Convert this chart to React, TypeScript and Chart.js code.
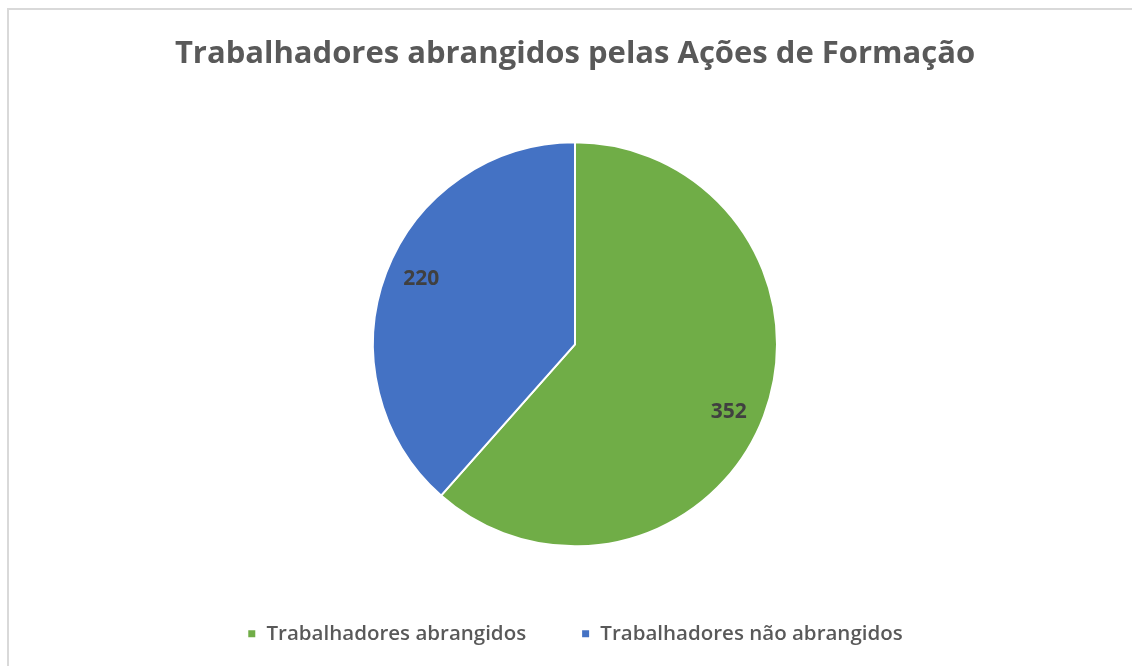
import React, { useEffect, useRef } from "react";
import { Chart, registerables } from "chart.js";

Chart.register(...registerables);

const titleText = "Trabalhadores abrangidos pelas Ações de Formação";
const categories = ["Trabalhadores abrangidos", "Trabalhadores não abrangidos"];
const values = [352, 220];
const colors = ["#70AD47", "#4472C4"];

const valueLabels = {
  id: "valueLabels",
  afterDatasetsDraw(chart: any) {
    const ctx = chart.ctx;
    const meta = chart.getDatasetMeta(0);
    ctx.save();
    ctx.font = "bold 21px 'Open Sans'";
    ctx.fillStyle = "#404040";
    ctx.textAlign = "center";
    ctx.textBaseline = "middle";
    meta.data.forEach((arc: any, i: number) => {
      const p = arc.getProps(["x", "y", "startAngle", "endAngle", "outerRadius"], true);
      const mid = (p.startAngle + p.endAngle) / 2 + (2.7 * Math.PI) / 180;
      const r = p.outerRadius * 0.83;
      ctx.fillText(String(values[i]), p.x + Math.cos(mid) * r, p.y + Math.sin(mid) * r + 1);
    });
    ctx.restore();
  },
};

export default function App() {
  const ref = useRef<HTMLCanvasElement>(null);
  useEffect(() => {
    if (!ref.current) return;
    const chart = new Chart(ref.current, {
      type: "pie",
      data: {
        labels: categories,
        datasets: [
          {
            data: values,
            backgroundColor: colors,
            borderColor: "#ffffff",
            borderWidth: 2,
            radius: 202,
          },
        ],
      },
      options: {
        animation: false,
        responsive: false,
        maintainAspectRatio: false,
        layout: { padding: { left: 18, bottom: 12 } },
        plugins: {
          title: {
            display: true,
            text: titleText,
            color: "#595959",
            font: { family: "'Open Sans'", size: 31, weight: "bold", lineHeight: 1.2 },
            padding: { top: 36, bottom: 47 },
          },
          legend: {
            position: "bottom",
            labels: {
              color: "#595959",
              boxWidth: 9,
              boxHeight: 9,
              padding: 55,
              font: { family: "'Open Sans'", size: 20.5, weight: "600" },
            },
          },
          tooltip: { enabled: false },
        },
      },
      plugins: [valueLabels],
    });
    return () => chart.destroy();
  }, []);
  return (
    <>
      <div
        style={{
          position: "fixed",
          left: 7,
          top: 8,
          width: 2000,
          height: 2000,
          borderTop: "2px solid #D9D9D9",
          borderLeft: "2px solid #D9D9D9",
          background: "#ffffff",
        }}
      />
      <canvas
        ref={ref}
        width={1132}
        height={666}
        style={{ position: "fixed", left: 0, top: 0, width: 1132, height: 666 }}
      />
    </>
  );
}
